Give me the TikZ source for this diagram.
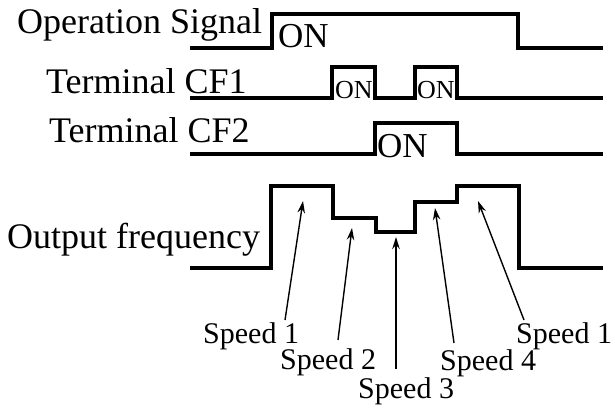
\documentclass[tikz,border=0pt]{standalone}
\usepackage{fontspec}
\setmainfont{Liberation Serif}
\usetikzlibrary{arrows.meta}
\begin{document}
\begin{tikzpicture}[x=1pt,y=-1pt,
  lbl/.style={inner sep=0pt,anchor=base west,font=\fontsize{36}{40}\selectfont},
  onbig/.style={inner sep=0pt,anchor=base west,font=\fontsize{35}{38}\selectfont},
  onsmall/.style={inner sep=0pt,anchor=base west,font=\fontsize{26}{30}\selectfont},
  spd/.style={inner sep=0pt,anchor=base west,font=\fontsize{30}{34}\selectfont},
  wave/.style={line width=3.2pt,line join=miter},
  ptr/.style={line width=1.4pt,-{Stealth[length=12pt,width=7.5pt]}}]
\useasboundingbox (0,0) rectangle (615,408);
% labels
\node[lbl] (op) at (17,33) {Operation Signal};
\node[lbl] (cf1) at (46,93) {Terminal CF1};
\node[lbl] (cf2) at (49,142) {Terminal CF2};
\node[lbl] (out) at (7,248) {Output frequency};
% ON labels
\node[onbig] (on1) at (278,47) {ON};
\node[onsmall] (on2) at (335,98) {ON};
\node[onsmall] (on3) at (417,98) {ON};
\node[onbig] (on4) at (377,157) {ON};
% waveforms
\draw[wave] (190,48) -- (272,48) -- (272,14) -- (518,14) -- (518,48) -- (603,48);
\draw[wave] (190,98) -- (332,98) -- (332,67) -- (375,67) -- (375,98) -- (415,98)
  -- (415,67) -- (457,67) -- (457,98) -- (603,98);
\draw[wave] (190,154) -- (375,154) -- (375,123) -- (457,123) -- (457,154) -- (603,154);
\draw[wave] (190,268) -- (271,268) -- (271,186) -- (333,186) -- (333,218) -- (376,218)
  -- (376,232) -- (415,232) -- (415,202) -- (457,202) -- (457,186) -- (519,186)
  -- (519,268) -- (603,268);
% speed labels
\node[spd] (s1) at (203,343) {Speed 1};
\node[spd] (s2) at (280,369) {Speed 2};
\node[spd] (s3) at (358,398) {Speed 3};
\node[spd] (s4) at (440,370) {Speed 4};
\node[spd] (s5) at (516,343) {Speed 1};
% arrow ends
\coordinate (t1) at (303,201);
\coordinate (t2) at (352,228);
\coordinate (t3) at (396,237);
\coordinate (t4) at (435,208);
\coordinate (t5) at (478,201);
\coordinate (b1) at (285,320);
\coordinate (b2) at (338,340);
\coordinate (b3) at (396,369);
\coordinate (b4) at (454,343);
\coordinate (b5) at (524,320);
\draw[ptr] (b1) -- (t1);
\draw[ptr] (b2) -- (t2);
\draw[ptr] (b3) -- (t3);
\draw[ptr] (b4) -- (t4);
\draw[ptr] (b5) -- (t5);
\end{tikzpicture}
\end{document}
